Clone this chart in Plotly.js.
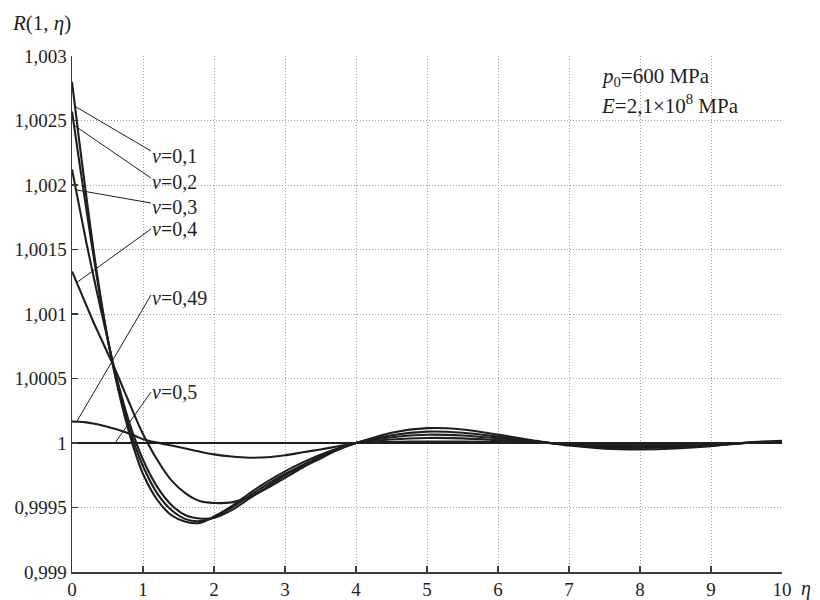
<!DOCTYPE html>
<html>
<head>
<meta charset="utf-8">
<script src="https://cdn.plot.ly/plotly-3.0.1.min.js"></script>
<style>
  html, body { margin: 0; padding: 0; background: #fff; }
  #chart { width: 820px; height: 600px; }
</style>
</head>
<body>
<div id="chart"></div>
<script>
// Dimensionless coordinate eta
const eta = [0, 0.1, 0.2, 0.3, 0.4, 0.5, 0.6, 0.7, 0.8, 0.9, 1.0, 1.2, 1.4, 1.6, 1.8, 2.0,
  2.25, 2.5, 2.75, 3.0, 3.25, 3.5, 3.75, 4.0, 4.5, 5.0, 5.5, 6.0, 6.5, 7.0, 7.5, 8.0,
  8.5, 9.0, 9.5, 10];

// R(1, eta) for each Poisson ratio
const R_nu01 = [1.00280, 1.00235, 1.00192, 1.00151, 1.00114, 1.00082, 1.00054, 1.00030,
  1.00009, 0.99991, 0.99976, 0.99956, 0.99944, 0.99939, 0.99938, 0.99943,
  0.99951, 0.99961, 0.99970, 0.99978, 0.99985, 0.99991, 0.99996, 1.00000,
  1.000080, 1.000115, 1.000105, 1.000065, 1.000020, 0.999980, 0.999956, 0.999950,
  0.999957, 0.999975, 1.000003, 1.000018];
const R_nu02 = [1.00257, 1.00219, 1.00182, 1.00146, 1.00112, 1.00081, 1.00055, 1.00032,
  1.00013, 0.99996, 0.99982, 0.99961, 0.99948, 0.99941, 0.999394, 0.99942,
  0.99950, 0.99959, 0.99968, 0.99976, 0.99983, 0.99990, 0.99995, 1.00000,
  1.000060, 1.000088, 1.000080, 1.000050, 1.000015, 0.999985, 0.999966, 0.999962,
  0.999967, 0.999980, 1.000002, 1.000014];
const R_nu03 = [1.00212, 1.00184, 1.00156, 1.00130, 1.00105, 1.00081, 1.00057, 1.00036,
  1.00017, 1.00001, 0.99987, 0.99966, 0.99952, 0.99944, 0.999415, 0.99942,
  0.99948, 0.99957, 0.99966, 0.99975, 0.99982, 0.99989, 0.99995, 1.00000,
  1.000044, 1.000064, 1.000058, 1.000036, 1.000011, 0.999989, 0.999976, 0.999972,
  0.999976, 0.999986, 1.000001, 1.000010];
const R_nu04 = [1.00133, 1.00120, 1.00107, 1.00094, 1.00082, 1.00070, 1.00058, 1.00045,
  1.00032, 1.00019, 1.00007, 0.99987, 0.99971, 0.99961, 0.99955, 0.999535,
  0.99954, 0.99958, 0.99965, 0.99973, 0.99981, 0.99988, 0.99995, 1.00000,
  1.000027, 1.000039, 1.000036, 1.000022, 1.000007, 0.999993, 0.999985, 0.999983,
  0.999985, 0.999991, 1.000000, 1.000006];
const R_nu049 = [1.000167, 1.000165, 1.000160, 1.000151, 1.000140, 1.000126, 1.000110, 1.000093,
  1.000074, 1.000052, 1.000030, 1.000003, 0.999980, 0.999957, 0.999933, 0.999912,
  0.999895, 0.999886, 0.999889, 0.999905, 0.999928, 0.999950, 0.999975, 1.000000,
  1.000008, 1.000012, 1.000011, 1.000007, 1.000002, 0.999998, 0.999995, 0.999995,
  0.999995, 0.999997, 1.000000, 1.000002];
const eta_nu05 = [0, 10];
const R_nu05 = [1, 1];

const seriesLabels = ['0,1', '0,2', '0,3', '0,4', '0,49', '0,5'];

// Axis ticks
const yTickVals = [0.999, 0.9995, 1, 1.0005, 1.001, 1.0015, 1.002, 1.0025, 1.003];
const yTickText = ['0,999', '0,9995', '1', '1,0005', '1,001', '1,0015', '1,002', '1,0025', '1,003'];
const xTickVals = [0, 1, 2, 3, 4, 5, 6, 7, 8, 9, 10];
const xTickText = ['0', '1', '2', '3', '4', '5', '6', '7', '8', '9', '10'];

const FONT = '"Liberation Serif", "DejaVu Serif", serif';
const INK = '#1e1e1e';

const lineStyle = { color: INK, width: 2.1, shape: 'spline', smoothing: 0.8 };
const curves = [
  [eta, R_nu01], [eta, R_nu02], [eta, R_nu03], [eta, R_nu04], [eta, R_nu049], [eta_nu05, R_nu05]
];
const traces = curves.map(function (c, i) {
  return {
    x: c[0], y: c[1], type: 'scatter', mode: 'lines',
    name: 'ν=' + seriesLabels[i], line: lineStyle, hoverinfo: 'x+y'
  };
});

// Plot geometry (pixels) used to place labels
const M = { l: 72, r: 38, t: 56, b: 28 };
const W = 820, H = 600;
const plotW = W - M.l - M.r, plotH = H - M.t - M.b;
const X0 = 0, X1 = 10, Y0 = 0.999, Y1 = 1.003;
function pxToX(px) { return X0 + (px - M.l) / plotW * (X1 - X0); }
function pyToY(py) { return Y1 - (py - M.t) / plotH * (Y1 - Y0); }
function valueAt(xs, ys, x) {
  for (let i = 1; i < xs.length; i++) {
    if (x <= xs[i]) {
      const t = (x - xs[i - 1]) / (xs[i] - xs[i - 1]);
      return ys[i - 1] + t * (ys[i] - ys[i - 1]);
    }
  }
  return ys[ys.length - 1];
}

// Leader lines from each curve to its label: [tip x (px), label centre y (px), tail y (px)]
const leaders = [
  [75, 156, 151],
  [74, 182, 178],
  [76, 207, 203],
  [76.7, 229, 229],
  [76.7, 298, 295],
  [115, 392, 392]
];
const labelPx = 151;
const LABEL_SIZE = 20;
const shapes = [];
const annotations = [];
leaders.forEach(function (L, i) {
  const c = curves[i];
  const tipX = pxToX(L[0]);
  const tipY = valueAt(c[0], c[1], tipX);
  shapes.push({
    type: 'line', xref: 'x', yref: 'y',
    x0: tipX, y0: tipY, x1: pxToX(labelPx), y1: pyToY(L[2]),
    line: { color: INK, width: 1 }
  });
  annotations.push({
    xref: 'x', yref: 'y', x: pxToX(labelPx), y: pyToY(L[1]),
    xanchor: 'left', yanchor: 'middle', showarrow: false,
    borderpad: 0,
    text: '<i>ν</i>=' + seriesLabels[i],
    font: { family: FONT, size: LABEL_SIZE, color: INK }
  });
});

// Parameters text, upper right
annotations.push({
  xref: 'paper', yref: 'paper', x: (599 - M.l) / plotW, y: (H - M.b - 77) / plotH,
  xanchor: 'left', yanchor: 'middle', showarrow: false,
  text: '<i>p</i><sub>0</sub>=600 MPa',
  font: { family: FONT, size: 21, color: INK }
});
annotations.push({
  xref: 'paper', yref: 'paper', x: (599 - M.l) / plotW, y: (H - M.b - 104) / plotH,
  xanchor: 'left', yanchor: 'middle', showarrow: false,
  text: '<i>E</i>=2,1×10<sup>8</sup> MPa',
  font: { family: FONT, size: 21, color: INK }
});
// Axis titles
annotations.push({
  xref: 'paper', yref: 'paper', x: (10 - M.l) / plotW, y: (H - M.b - 23) / plotH,
  xanchor: 'left', yanchor: 'middle', showarrow: false,
  text: '<i>R</i>(1, <i>η</i>)',
  font: { family: FONT, size: 21, color: INK }
});
annotations.push({
  xref: 'paper', yref: 'paper', x: (806 - M.l) / plotW, y: (H - M.b - 588) / plotH,
  xanchor: 'center', yanchor: 'middle', showarrow: false,
  borderpad: 0,
  text: '<i>η</i>',
  font: { family: FONT, size: 20, color: INK }
});

const axisCommon = {
  showgrid: true, gridcolor: '#a0a0a0', griddash: '1px,2px', gridwidth: 1,
  zeroline: false, showline: true, linecolor: '#3a3a3a', linewidth: 1.5,
  ticks: 'inside', ticklen: 6, tickcolor: '#3a3a3a', tickwidth: 1.5,
  tickfont: { family: FONT, size: 19, color: INK }, fixedrange: true
};

const layout = {
  width: W, height: H,
  margin: M,
  paper_bgcolor: '#fff', plot_bgcolor: '#fff',
  showlegend: false,
  xaxis: Object.assign({}, axisCommon, {
    range: [X0, X1], tickvals: xTickVals, ticktext: xTickText
  }),
  yaxis: Object.assign({}, axisCommon, {
    range: [Y0, Y1], tickvals: yTickVals, ticktext: yTickText
  }),
  shapes: shapes,
  annotations: annotations,
  font: { family: FONT, color: INK }
};

Plotly.newPlot('chart', traces, layout, { displayModeBar: false, staticPlot: true });
</script>
</body>
</html>
